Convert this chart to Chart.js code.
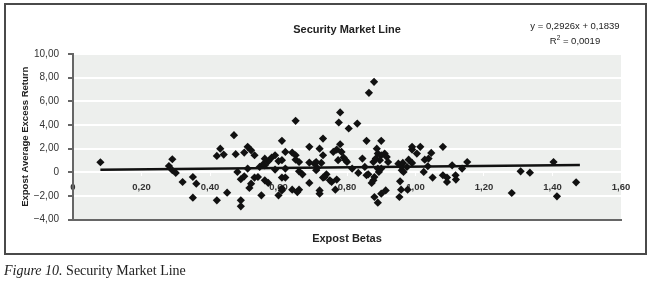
<!DOCTYPE html>
<html>
<head>
<meta charset="utf-8">
<title>Security Market Line</title>
<script src="https://cdn.jsdelivr.net/npm/chart.js"></script>
<style>
    html, body { margin: 0; padding: 0; background: #fff; }
    body { width: 650px; height: 282px; position: relative; overflow: hidden; }
    #frame {
        position: absolute; left: 4px; top: 3px;
        width: 639px; height: 248px;
        border: 2px solid #4a4a4a;
    }
    #chart { position: absolute; left: 0; top: 0; }
    #equation {
        position: absolute; left: 525px; top: 18px; width: 100px;
        text-align: center; color: #222;
        font: 9.5px "Liberation Sans", Arial, sans-serif;
        line-height: 15px;
    }
    #equation sup { font-size: 6.5px; line-height: 0; }
    #caption {
        position: absolute; left: 4px; top: 263px; color: #222;
        font: 14px "Liberation Serif", "Times New Roman", serif;
    }
</style>
</head>
<body>
<div id="frame"></div>
<canvas id="chart" width="650" height="282"></canvas>
<div id="equation">y = 0,2926x + 0,1839<br>R<sup>2</sup> = 0,0019</div>
<div id="caption"><i>Figure 10.</i> Security Market Line</div>
<script>
    // values
    const betas = [
        0.08, 0.29, 0.28, 0.29, 0.30, 0.32, 0.35, 0.36, 0.35, 0.42,
        0.45, 0.42, 0.43, 0.44, 0.47, 0.475, 0.48, 0.49, 0.50, 0.49,
        0.49, 0.50, 0.51, 0.52, 0.53, 0.51, 0.515, 0.52, 0.53, 0.54,
        0.545, 0.555, 0.55, 0.56, 0.57, 0.57, 0.58, 0.59, 0.59, 0.61,
        0.62, 0.61, 0.60, 0.61, 0.62, 0.61, 0.60, 0.62, 0.65, 0.64,
        0.65, 0.65, 0.66, 0.66, 0.64, 0.66, 0.655, 0.67, 0.69, 0.69,
        0.705, 0.69, 0.71, 0.713, 0.72, 0.73, 0.73, 0.725, 0.72, 0.72,
        0.73, 0.74, 0.755, 0.766, 0.76, 0.77, 0.78, 0.774, 0.784, 0.56,
        0.61, 0.71, 0.735, 0.75, 0.56,
        0.78, 0.776, 0.805, 0.83, 0.79, 0.796, 0.80, 0.77, 0.815, 0.833,
        0.845, 0.857, 0.852, 0.857, 0.862, 0.877, 0.884, 0.887, 0.90, 0.89,
        0.90, 0.896, 0.91, 0.916, 0.92, 0.89, 0.90, 0.893, 0.88, 0.877,
        0.872, 0.88, 0.89, 0.90, 0.913, 0.95, 0.958, 0.963, 0.955, 0.96,
        0.965, 0.953, 0.958, 0.977, 0.98, 0.975, 0.99, 0.99, 1.004, 1.014,
        0.99, 1.027, 1.024, 1.036, 1.038, 1.046, 1.05, 1.08, 1.08, 1.092,
        1.092, 1.107, 1.117, 1.118, 1.136, 1.151, 1.281, 1.307, 1.334, 1.403,
        1.469, 1.413, 0.864, 0.879
    ];
    const returns = [
        0.85, 1.10, 0.53, 0.17, -0.05, -0.82, -0.40, -0.96, -2.15, -2.37,
        -1.72, 1.38, 2.00, 1.50, 3.14, 1.53, 0.03, -0.59, -0.34, -2.37,
        -2.88, 1.67, 2.15, 1.86, 1.44, 0.31, -1.33, -0.96, -0.45, -0.40,
        0.45, 0.68, -1.95, -0.68, -0.90, 0.93, 1.24, 1.44, 0.23, 2.66,
        1.72, 1.02, 0.95, -0.45, -0.45, -1.53, -1.95, 0.31, 4.35, 1.67,
        1.44, 1.07, 0.87, 0.08, -1.47, -1.47, -1.67, -0.17, 2.15, 0.82,
        0.73, -0.90, 0.17, 0.37, 2.00, 2.85, 1.44, 0.79, -1.53, -1.81,
        -0.45, -0.17, -0.82, -1.47, 1.72, 1.92, 2.37, 1.02, 1.72, 0.59,
        -1.38, 0.87, -0.40, -0.68, 1.15,
        5.06, 4.21, 3.70, 4.12, 1.24, 1.02, 0.87, -0.62, 0.31, -0.05,
        1.16, 2.66, 0.45, -0.25, -0.17, 0.87, 1.16, 2.00, 2.66, 1.58,
        1.44, 1.02, 1.58, 1.30, 0.87, 0.31, 0.31, 0.03, -0.40, -0.68,
        -0.90, -2.09, -2.57, -1.81, -1.53, 0.73, 0.51, 0.79, -0.76, 0.17,
        0.03, -2.09, -1.47, -1.47, 1.07, 0.45, 1.92, 2.15, 1.58, 2.15,
        0.79, 1.07, 0.03, 0.51, 1.16, 1.64, -0.45, 2.15, -0.25, -0.45,
        -0.82, 0.59, -0.25, -0.62, 0.31, 0.87, -1.75, 0.08, -0.03, 0.87,
        -0.85, -2.03, 6.72, 7.65
    ];
    // end points of the linear trend line (y = 0,2926x + 0,1839)
    const trendBetas = [0.08, 1.48];
    const trendReturns = [0.207, 0.617];

    const FONT = '"Liberation Sans", Arial, sans-serif';

    function fmt(v) {
        if (Math.abs(v) < 1e-9) return '0';
        return v.toFixed(2).replace('.', ',').replace('-', '\u2212');
    }

    // grey plot area like the Excel chart
    const plotBg = {
        id: 'plotBg',
        beforeDraw(chart) {
            const { ctx, chartArea: a } = chart;
            ctx.save();
            ctx.fillStyle = '#edefed';
            ctx.fillRect(a.left, a.top, a.right - a.left, a.bottom - a.top);
            ctx.restore();
        }
    };

    new Chart(document.getElementById('chart'), {
        type: 'scatter',
        data: {
            datasets: [
                {
                    label: 'Trend',
                    type: 'line',
                    data: trendBetas.map((b, i) => ({ x: b, y: trendReturns[i] })),
                    borderColor: '#111',
                    borderWidth: 2.5,
                    pointRadius: 0,
                    fill: false,
                    order: 0
                },
                {
                    label: 'Stocks',
                    data: betas.map((b, i) => ({ x: b, y: returns[i] })),
                    pointStyle: 'rectRot',
                    pointRadius: 4.1,
                    backgroundColor: '#111',
                    borderWidth: 0,
                    order: 1
                }
            ]
        },
        options: {
            responsive: false,
            animation: false,
            layout: { padding: { left: 4, right: 29, top: 23.4, bottom: 36.8 } },
            plugins: {
                legend: { display: false },
                tooltip: { enabled: false },
                title: {
                    display: true,
                    text: 'Security Market Line',
                    fullSize: false,
                    color: '#222',
                    font: { family: FONT, size: 11, weight: 'bold' },
                    padding: { top: 0, bottom: 17.4 }
                }
            },
            scales: {
                x: {
                    type: 'linear',
                    min: 0,
                    max: 1.6,
                    position: { y: 0 },
                    ticks: {
                        stepSize: 0.2,
                        callback: fmt,
                        color: '#333',
                        font: { family: FONT, size: 9.5, weight: 'bold' },
                        padding: 5,
                        maxRotation: 0
                    },
                    grid: { display: true, drawOnChartArea: false, drawTicks: true, tickLength: 4, tickColor: '#fff' },
                    border: { display: false }
                },
                x2: {
                    type: 'linear',
                    axis: 'x',
                    min: 0,
                    max: 1.6,
                    position: 'bottom',
                    ticks: { display: false },
                    grid: { display: false, drawTicks: false },
                    border: { display: true, color: '#666', width: 2 },
                    title: {
                        display: true,
                        text: 'Expost Betas',
                        color: '#222',
                        font: { family: FONT, size: 11, weight: 'bold' },
                        padding: { top: 12.4, bottom: 0 }
                    }
                },
                y: {
                    min: -4,
                    max: 10,
                    ticks: {
                        stepSize: 2,
                        callback: fmt,
                        color: '#333',
                        font: { family: FONT, size: 10 },
                        padding: 9
                    },
                    grid: { color: '#fff', lineWidth: 2, tickColor: '#666', tickLength: 5 },
                    border: { color: '#666', width: 2 },
                    title: {
                        display: true,
                        text: 'Expost Average Excess Return',
                        color: '#222',
                        font: { family: FONT, size: 9.5, weight: 'bold' },
                        padding: { top: 15.3, bottom: 0 }
                    },
                    afterFit(scale) { scale.width = 69; }
                }
            }
        },
        plugins: [plotBg]
    });
</script>
</body>
</html>
